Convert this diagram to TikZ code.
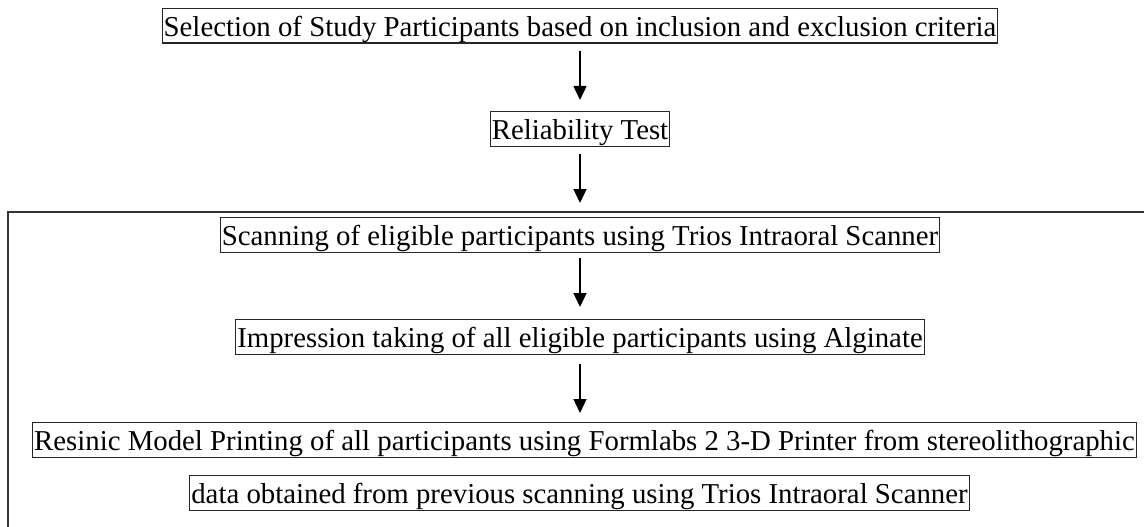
\documentclass[tikz,border=0pt]{standalone}
\usepackage{fontspec}
\setmainfont{Liberation Serif}
\usetikzlibrary{arrows.meta}
\begin{document}
\begin{tikzpicture}[x=1pt,y=1pt,
  stepbox/.style={draw=black!85,line width=1.1pt,inner xsep=1.5pt,inner ysep=0pt,
    text height=27.5pt,text depth=7pt,font=\fontsize{28.8}{32}\selectfont,anchor=north},
  flow/.style={-{Triangle[width=13pt,length=14pt]},line width=1.3pt}]
\useasboundingbox (0,0) rectangle (1144,-527);
\clip (0,0) rectangle (1144,-527);
\fill[white] (0,0) rectangle (1144,-527);
\draw[line width=1.5pt,black!80] (8,-540) -- (8,-212) -- (1160,-212);
\node[stepbox] (b1) at (580,-8) {Selection of Study Participants based on inclusion and exclusion criteria};
\node[stepbox] (b2) at (580,-111) {Reliability Test};
\node[stepbox] (b3) at (580,-217) {Scanning of eligible participants using Trios Intraoral Scanner};
\node[stepbox] (b4) at (580,-319) {Impression taking of all eligible participants using Alginate};
\node[stepbox] (b5) at (584.5,-422) {Resinic Model Printing of all participants using Formlabs 2 3-D Printer from stereolithographic};
\node[stepbox] (b6) at (579.5,-475) {data obtained from previous scanning using Trios Intraoral Scanner};
\draw[flow,shorten <=7pt,shorten >=11pt] (b1.south) -- (b1.south |- b2.north);
\draw[flow,shorten <=7pt,shorten >=14pt] (b2.south) -- (b2.south |- b3.north);
\draw[flow,shorten <=5pt,shorten >=12pt] (b3.south) -- (b3.south |- b4.north);
\draw[flow,shorten <=9pt,shorten >=9pt] (b4.south) -- (b4.south |- b5.north);
\end{tikzpicture}
\end{document}
